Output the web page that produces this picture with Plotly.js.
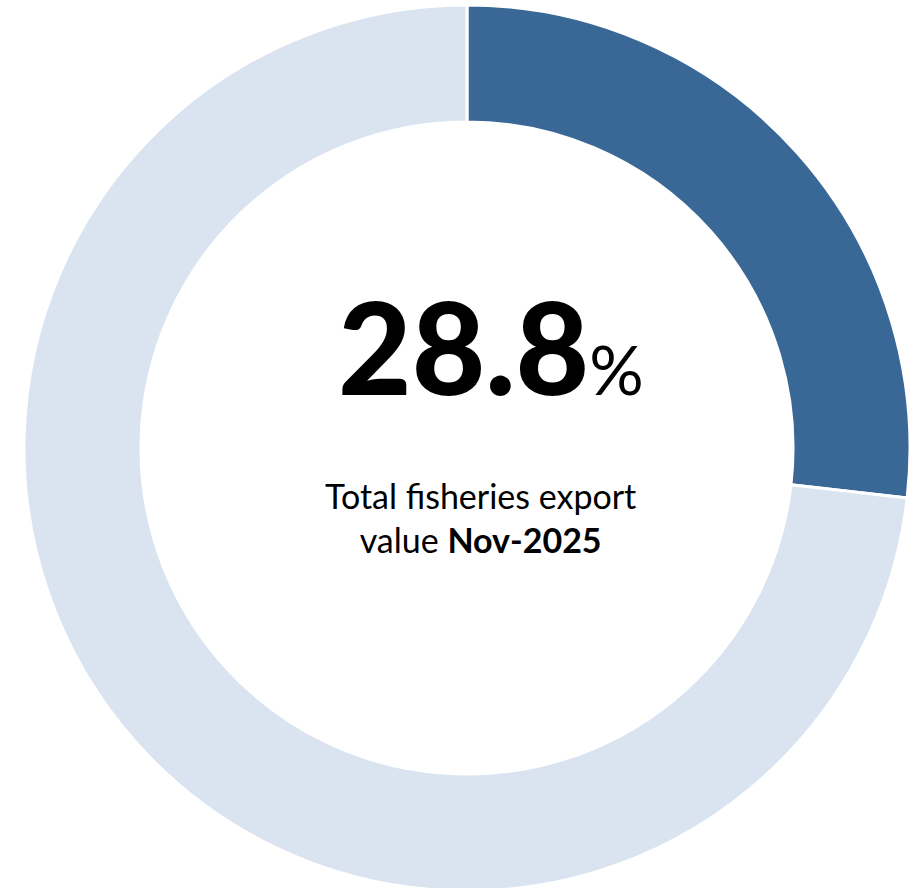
<!DOCTYPE html>
<html>
<head>
<meta charset="utf-8">
<script src="https://cdn.plot.ly/plotly-3.0.1.min.js"></script>
<style>
html, body { margin: 0; padding: 0; overflow: hidden; background: #fff; }
#chart { width: 918px; height: 900px; }
</style>
</head>
<body>
<div id="chart"></div>
<script>
// Data
const labels = ["Share", "Remainder"];
const values = [26.8, 73.2];
const colors = ["#3A6896", "#D9E4F0"];
const headline = "28.8";
const captionLine1 = "Total fisheries export";
const captionLine2a = "value ";
const captionLine2b = "Nov-2025";

const W = 918, H = 900;
const cx = 467, cy = 448, R = 443;

const trace = {
  type: "pie",
  labels: labels,
  values: values,
  marker: { colors: colors, line: { color: "#ffffff", width: 3 } },
  hole: 0.736,
  sort: false,
  direction: "clockwise",
  rotation: 0,
  textinfo: "none",
  hoverinfo: "none",
  showlegend: false,
  domain: {
    x: [(cx - R) / W, (cx + R) / W],
    y: [1 - (cy + R) / H, 1 - (cy - R) / H]
  }
};

const layout = {
  width: W,
  height: H,
  margin: { l: 0, r: 0, t: 0, b: 0 },
  paper_bgcolor: "#ffffff",
  showlegend: false,
  font: { family: "Lato, 'Open Sans', sans-serif", color: "#000000" },
  annotations: [
    {
      xref: "paper", yref: "paper",
      x: 491 / W, y: 1 - 346 / H,
      xanchor: "center", yanchor: "middle",
      showarrow: false,
      text: "<span style='font-weight:900'>" + headline + "</span><span style='font-size:68px'>%</span>",
      font: { size: 127, family: "Lato, sans-serif", color: "#000000" }
    },
    {
      xref: "paper", yref: "paper",
      x: 480 / W, y: 1 - 517 / H,
      xanchor: "center", yanchor: "middle",
      showarrow: false,
      align: "center",
      text: captionLine1 + "<br>" + captionLine2a + "<b>" + captionLine2b + "</b>",
      font: { size: 34, family: "Lato, sans-serif", color: "#000000" }
    }
  ]
};

Plotly.newPlot("chart", [trace], layout, { displayModeBar: false, staticPlot: true });
</script>
</body>
</html>
